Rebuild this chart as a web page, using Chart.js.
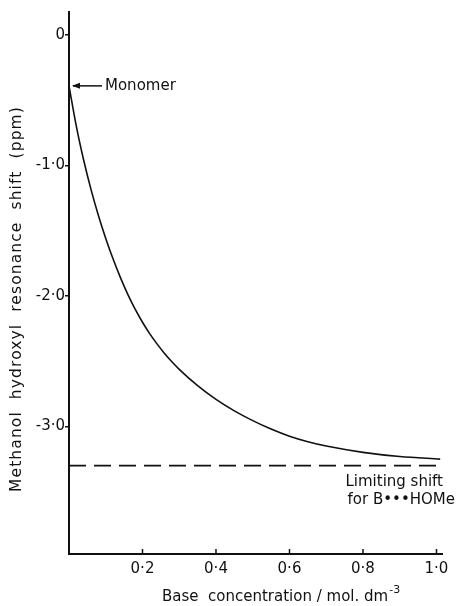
<!DOCTYPE html>
<html>
<head>
<meta charset="utf-8">
<script src="https://cdn.jsdelivr.net/npm/chart.js@4.4.1/dist/chart.umd.min.js"></script>
<style>
  html, body { margin: 0; padding: 0; background: #fff; }
  #wrap { width: 456px; height: 606px; }
</style>
</head>
<body>
<div id="wrap"><canvas id="chart" width="456" height="606"></canvas></div>
<script>
// Base concentration (mol dm^-3) and methanol OH shift (ppm)
const concentration = [0, 0.02, 0.04, 0.06, 0.08, 0.10, 0.12, 0.14, 0.16, 0.18, 0.20,
  0.22, 0.24, 0.26, 0.28, 0.30, 0.35, 0.40, 0.45, 0.50, 0.55, 0.60, 0.65, 0.70, 0.80, 0.90, 1.01];
const shift = [-0.39, -0.70, -0.96, -1.185, -1.383, -1.559, -1.717, -1.859, -1.987, -2.101, -2.201,
  -2.290, -2.369, -2.440, -2.504, -2.562, -2.687, -2.792, -2.880, -2.955, -3.020, -3.075, -3.117,
  -3.150, -3.198, -3.230, -3.250];
const limitingShift = -3.30;
const limitingRange = [0, 1.015];

const xTicks = [0.2, 0.4, 0.6, 0.8, 1.0];
const xTickLabels = ['0·2', '0·4', '0·6', '0·8', '1·0'];
const yTicks = [0, -1, -2, -3];
const yTickLabels = ['0', '-1·0', '-2·0', '-3·0'];

const ink = '#111';
const FONT = '"DejaVu Sans", sans-serif';

const annotations = {
  id: 'annotations',
  afterDraw(chart) {
    const g = chart.ctx;
    const xs = chart.scales.x, ys = chart.scales.y;
    g.save();
    g.fillStyle = ink;
    g.strokeStyle = ink;

    // inward x ticks
    g.lineWidth = 1.5;
    xTicks.forEach(v => {
      const px = xs.getPixelForValue(v);
      g.beginPath();
      g.moveTo(px, ys.bottom);
      g.lineTo(px, ys.bottom - 5);
      g.stroke();
    });

    // Monomer arrow
    const mx = xs.getPixelForValue(concentration[0]);
    const my = ys.getPixelForValue(shift[0]);
    g.beginPath();
    g.moveTo(mx + 4, my);
    g.lineTo(mx + 33, my);
    g.stroke();
    g.beginPath();
    g.moveTo(mx + 3, my);
    g.lineTo(mx + 11, my - 3);
    g.lineTo(mx + 11, my + 3);
    g.closePath();
    g.fill();
    g.font = '15px ' + FONT;
    g.textBaseline = 'middle';
    g.textAlign = 'left';
    g.fillText('Monomer', mx + 36, my);

    // limiting shift label
    g.textAlign = 'right';
    g.fillText('Limiting shift', 443, 482);
    g.fillText('for B•••HOMe', 455, 500);

    // x title
    g.textAlign = 'left';
    const t = 'Base  concentration / mol. dm';
    const tx = 162, ty = 597;
    g.fillText(t, tx, ty);
    const w = g.measureText(t).width;
    g.font = '11px ' + FONT;
    g.fillText('-3', tx + w + 1, ty - 7);

    // y title
    g.font = '15.5px ' + FONT;
    g.letterSpacing = '1.1px';
    g.translate(17, 299);
    g.rotate(-Math.PI / 2);
    g.textAlign = 'center';
    g.fillText('Methanol  hydroxyl  resonance  shift  (ppm)', 0, 0);
    g.restore();
  }
};

new Chart(document.getElementById('chart'), {
  type: 'scatter',
  data: {
    datasets: [
      {
        data: concentration.map((x, i) => ({ x, y: shift[i] })),
        showLine: true,
        borderColor: ink,
        borderWidth: 1.6,
        pointRadius: 0,
        cubicInterpolationMode: 'monotone',
        fill: false
      },
      {
        data: limitingRange.map(x => ({ x, y: limitingShift })),
        showLine: true,
        borderColor: ink,
        borderWidth: 1.6,
        borderDash: [17, 8],
        pointRadius: 0,
        fill: false
      }
    ]
  },
  options: {
    responsive: false,
    animation: false,
    layout: { padding: { top: 12, right: 14, left: 0, bottom: 0 } },
    plugins: { legend: { display: false }, tooltip: { enabled: false } },
    scales: {
      x: {
        type: 'linear',
        min: 0,
        max: 1.015,
        grid: { drawOnChartArea: false, drawTicks: false },
        border: { color: ink, width: 2 },
        ticks: {
          color: ink,
          font: { family: FONT, size: 15 },
          padding: 6,
          maxRotation: 0,
          autoSkip: false,
          callback: v => xTickLabels[xTicks.indexOf(v)]
        },
        afterBuildTicks: s => { s.ticks = xTicks.map(v => ({ value: v })); },
        afterFit: s => { s.height = 52; }
      },
      y: {
        type: 'linear',
        min: -3.977,
        max: 0.176,
        grid: { drawOnChartArea: false, tickLength: 4, color: ink, lineWidth: 1.5 },
        border: { color: ink, width: 2 },
        ticks: {
          color: ink,
          font: { family: FONT, size: 15 },
          padding: 0,
          autoSkip: false,
          callback: v => yTickLabels[yTicks.indexOf(v)]
        },
        afterBuildTicks: s => { s.ticks = yTicks.map(v => ({ value: v })); },
        afterFit: s => { s.width = 69; }
      }
    }
  },
  plugins: [annotations]
});
</script>
</body>
</html>
